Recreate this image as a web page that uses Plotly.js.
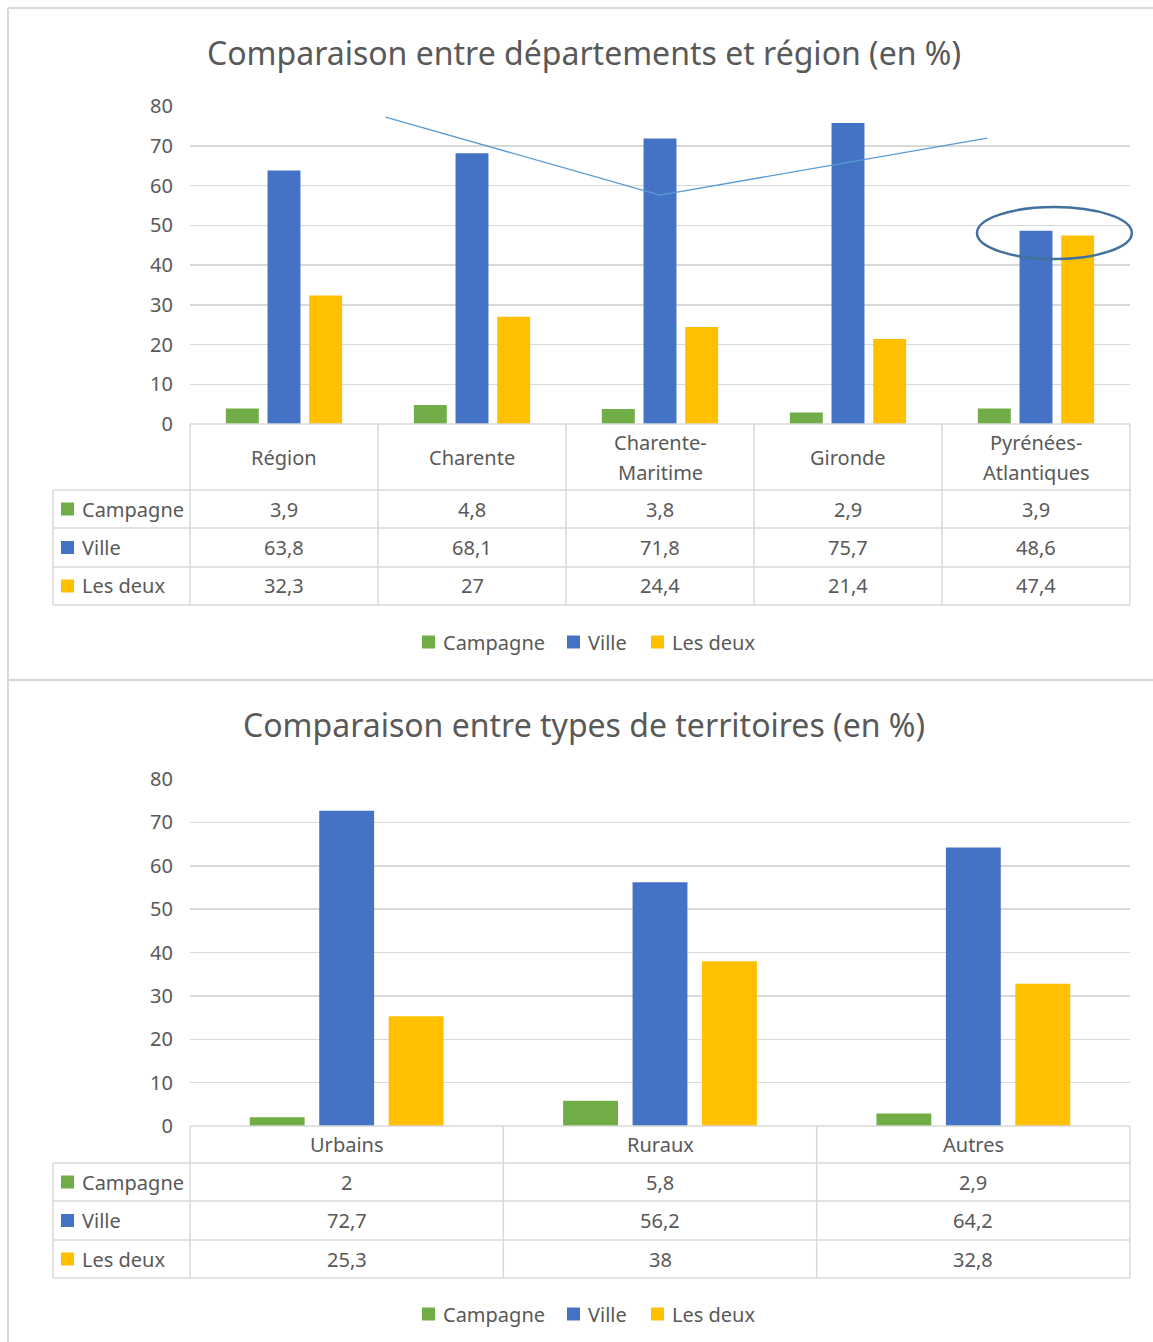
<!DOCTYPE html>
<html>
<head>
<meta charset="utf-8">
<script src="https://cdn.plot.ly/plotly-3.0.1.min.js"></script>
<style>html,body{margin:0;padding:0;background:#fff;}#chart{width:1153px;height:1342px;}</style>
</head>
<body>
<div id="chart"></div>
<script>
// ---------- DATA ----------
const title1 = "Comparaison entre départements et région (en %)";
const categories1 = ["Région", "Charente", "Charente-<br>Maritime", "Gironde", "Pyrénées-<br>Atlantiques"];
const campagne1 = [3.9, 4.8, 3.8, 2.9, 3.9];
const ville1 = [63.8, 68.1, 71.8, 75.7, 48.6];
const lesDeux1 = [32.3, 27, 24.4, 21.4, 47.4];

const title2 = "Comparaison entre types de territoires (en %)";
const categories2 = ["Urbains", "Ruraux", "Autres"];
const campagne2 = [2, 5.8, 2.9];
const ville2 = [72.7, 56.2, 64.2];
const lesDeux2 = [25.3, 38, 32.8];

const seriesNames = ["Campagne", "Ville", "Les deux"];
const yTicks = [0, 10, 20, 30, 40, 50, 60, 70, 80];

// ---------- STYLE ----------
const colors = ["#70AD47", "#4472C4", "#FFC000"];
const textColor = "#595959";
const lineColor = "#D9D9D9";
const FONT = "Noto Sans, Open Sans, sans-serif";
const W = 1153, H = 1342;
const px = x => x / W;
const py = y => 1 - y / H;
const fmt = v => String(v).replace(".", ",");

// Chart layout boxes (pixels)
const charts = [
  {cats: categories1, series: [campagne1, ville1, lesDeux1], title: title1, titleY: 52,
   top: 106, bottom: 424, headerBottom: 490, rows: [490, 528, 567, 605], legendY: 642, xa: "x", ya: "y"},
  {cats: categories2, series: [campagne2, ville2, lesDeux2], title: title2, titleY: 724,
   top: 779, bottom: 1126, headerBottom: 1163, rows: [1163, 1201, 1240, 1278], legendY: 1314, xa: "x2", ya: "y2"}
];
const plotLeft = 190, plotRight = 1130, tableLeft = 53;

const traces = [];
const shapes = [];
const annotations = [];
const layout = {
  width: W, height: H,
  margin: {l: 0, r: 0, t: 0, b: 0},
  paper_bgcolor: "#fff", plot_bgcolor: "rgba(0,0,0,0)",
  barmode: "group", bargap: 0.335, bargroupgap: 0.21,
  showlegend: false,
  font: {family: FONT, color: textColor},
};

function hline(x0, x1, y, w) {
  shapes.push({type: "line", xref: "paper", yref: "paper", x0: px(x0), x1: px(x1), y0: py(y), y1: py(y),
    line: {color: lineColor, width: w || 1.5}, layer: "above"});
}
function vline(x, y0, y1, w) {
  shapes.push({type: "line", xref: "paper", yref: "paper", x0: px(x), x1: px(x), y0: py(y0), y1: py(y1),
    line: {color: lineColor, width: w || 1.5}, layer: "above"});
}
function text(x, y, t, size, anchor) {
  annotations.push({xref: "paper", yref: "paper", x: px(x), y: py(y), text: t, showarrow: false,
    xanchor: anchor || "center", yanchor: "middle", font: {family: FONT, size: size || 20, color: textColor}});
}
function square(x0, yc, c) {
  shapes.push({type: "rect", xref: "paper", yref: "paper", x0: px(x0), x1: px(x0 + 13), y0: py(yc - 6.5), y1: py(yc + 6.5),
    fillcolor: c, line: {width: 0}, layer: "above"});
}

// outer frame
vline(8, 8, H, 2);
hline(8, W, 8, 2);
hline(8, W, 680, 2.5);

charts.forEach((c, ci) => {
  const xKey = ci === 0 ? "xaxis" : "xaxis2";
  const yKey = ci === 0 ? "yaxis" : "yaxis2";
  c.series.forEach((vals, si) => {
    traces.push({type: "bar", x: c.cats, y: vals, name: seriesNames[si], xaxis: c.xa, yaxis: c.ya,
      marker: {color: colors[si], line: {width: 0}}, hoverinfo: "skip"});
  });
  layout[xKey] = {domain: [px(plotLeft), px(plotRight)], type: "category", range: [-0.5, c.cats.length - 0.5],
    showticklabels: false, showgrid: false, zeroline: false, showline: false, ticks: "", anchor: c.ya, fixedrange: true};
  layout[yKey] = {domain: [py(c.bottom), py(c.top)], range: [0, 80], tickvals: yTicks, ticktext: yTicks.map(String),
    showgrid: true, gridcolor: lineColor, gridwidth: 1.5, zeroline: false, showline: false, ticks: "",
    ticklabelstandoff: 16, tickfont: {family: FONT, size: 20, color: textColor}, anchor: c.xa, fixedrange: true};

  // title
  text(584, c.titleY, c.title, 32);

  // table
  const n = c.cats.length;
  const colW = (plotRight - plotLeft) / n;
  const lastRow = c.rows[c.rows.length - 1];
  hline(plotLeft, plotRight, c.bottom);
  c.rows.forEach(y => hline(tableLeft, plotRight, y));
  vline(tableLeft, c.rows[0], lastRow);
  for (let i = 0; i <= n; i++) vline(plotLeft + i * colW, c.bottom, lastRow);
  // headers (each line placed separately for Excel-like line spacing)
  c.cats.forEach((cat, i) => {
    const parts = cat.split("<br>");
    const mid = (c.bottom + c.headerBottom) / 2;
    parts.forEach((p, k) => text(plotLeft + (i + 0.5) * colW, mid + (k - (parts.length - 1) / 2) * 30, p, 20));
  });
  // rows
  c.series.forEach((vals, si) => {
    const yc = (c.rows[si] + c.rows[si + 1]) / 2;
    square(61, yc, colors[si]);
    text(80, yc, seriesNames[si], 20, "left");
    vals.forEach((v, i) => text(plotLeft + (i + 0.5) * colW, yc, fmt(v), 20));
  });
  // legend
  const legX = [422, 567, 651];
  seriesNames.forEach((nm, si) => {
    square(legX[si], c.legendY, colors[si]);
    text(legX[si] + 19, c.legendY, nm, 20, "left");
  });
});

// hand-drawn decorations on chart 1 (line and ellipse), in category/value units
const decoLine = [[0.54, 77.2], [2.0, 57.6], [3.74, 71.9]];
for (let i = 0; i < decoLine.length - 1; i++) {
  shapes.push({type: "line", xref: "x", yref: "y", x0: decoLine[i][0], y0: decoLine[i][1], x1: decoLine[i + 1][0], y1: decoLine[i + 1][1],
    line: {color: "#5B9BD5", width: 1.3}, layer: "above"});
}
const decoEllipse = {x0: 3.686, x1: 4.51, y0: 41.5, y1: 54.6};
const c1 = charts[0];
const colW1 = (plotRight - plotLeft) / c1.cats.length;
const ix = v => px(plotLeft + (v + 0.5) * colW1);
const iy = v => py(c1.bottom - v / 80 * (c1.bottom - c1.top));
shapes.push({type: "circle", xref: "paper", yref: "paper",
  x0: ix(decoEllipse.x0), x1: ix(decoEllipse.x1), y0: iy(decoEllipse.y0), y1: iy(decoEllipse.y1),
  line: {color: "#41719C", width: 2.5}, fillcolor: "rgba(0,0,0,0)", layer: "above"});

layout.shapes = shapes;
layout.annotations = annotations;

Plotly.newPlot("chart", traces, layout, {displayModeBar: false, staticPlot: true});
</script>
</body>
</html>
